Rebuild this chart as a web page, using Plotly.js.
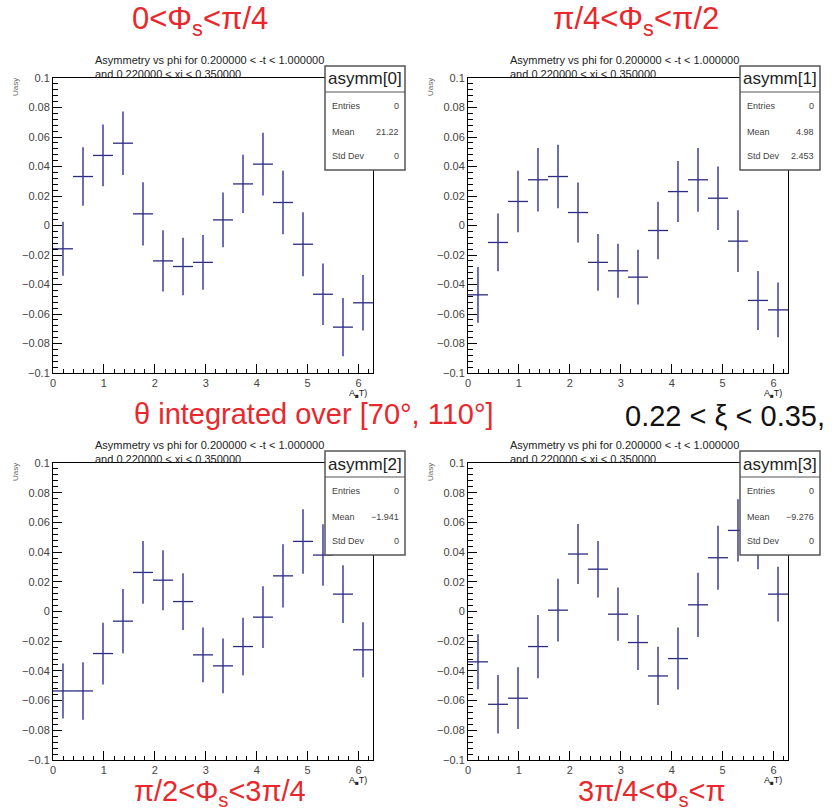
<!DOCTYPE html>
<html>
<head>
<meta charset="utf-8">
<script src="https://cdn.plot.ly/plotly-3.0.1.min.js"></script>
<style>html,body{margin:0;padding:0;background:#fff;}#chart{width:835px;height:812px;}</style>
</head>
<body>
<div id="chart"></div>
<script>
// ---- data ----
const phi = [0.196, 0.589, 0.982, 1.374, 1.767, 2.160, 2.553, 2.945, 3.338, 3.731, 4.123, 4.516, 4.909, 5.301, 5.694, 6.087];
const halfBin = 0.196;
const asym0 = [-0.0158, 0.0332, 0.0475, 0.0558, 0.0079, -0.0240, -0.0278, -0.0250, 0.0038, 0.0282, 0.0416, 0.0156, -0.0127, -0.0466, -0.0689, -0.0524];
const err0  = [0.0183, 0.0198, 0.0209, 0.0215, 0.0215, 0.0207, 0.0195, 0.0186, 0.0185, 0.0198, 0.0212, 0.0215, 0.0217, 0.0209, 0.0198, 0.0188];
const asym1 = [-0.0470, -0.0115, 0.0163, 0.0310, 0.0332, 0.0088, -0.0250, -0.0307, -0.0350, -0.0034, 0.0230, 0.0310, 0.0185, -0.0106, -0.0508, -0.0572];
const err1  = [0.0189, 0.0196, 0.0209, 0.0215, 0.0215, 0.0203, 0.0192, 0.0183, 0.0186, 0.0195, 0.0207, 0.0216, 0.0215, 0.0209, 0.0200, 0.0186];
const asym2 = [-0.0535, -0.0535, -0.0283, -0.0065, 0.0263, 0.0211, 0.0067, -0.0292, -0.0366, -0.0236, -0.0038, 0.0240, 0.0472, 0.0380, 0.0117, -0.0258];
const err2  = [0.0185, 0.0194, 0.0208, 0.0216, 0.0211, 0.0202, 0.0191, 0.0185, 0.0184, 0.0194, 0.0208, 0.0213, 0.0217, 0.0207, 0.0194, 0.0185];
const asym3 = [-0.0339, -0.0625, -0.0584, -0.0236, 0.0009, 0.0387, 0.0285, -0.0018, -0.0209, -0.0434, -0.0317, 0.0045, 0.0362, 0.0546, 0.0485, 0.0117];
const err3  = [0.0185, 0.0197, 0.0208, 0.0213, 0.0211, 0.0202, 0.0190, 0.0179, 0.0185, 0.0196, 0.0209, 0.0216, 0.0216, 0.0210, 0.0200, 0.0185];

const statNames   = ['asymm[0]', 'asymm[1]', 'asymm[2]', 'asymm[3]'];
const statEntries = ['0', '0', '0', '0'];
const statMean    = ['21.22', '4.98', '\u22121.941', '\u22129.276'];
const statStd     = ['0', '2.453', '0', '0'];

const histTitle1 = 'Asymmetry vs phi for 0.200000 &lt; -t &lt; 1.000000';
const histTitle2 = 'and 0.220000 &lt; xi &lt; 0.350000';
const yTitle = 'Uasy';
const xTitle = 'A<sub>\u25A0</sub>T)';

const binLabels = ['0&lt;\u03A6<sub>s</sub>&lt;\u03C0/4', '\u03C0/4&lt;\u03A6<sub>s</sub>&lt;\u03C0/2',
                   '\u03C0/2&lt;\u03A6<sub>s</sub>&lt;3\u03C0/4', '3\u03C0/4&lt;\u03A6<sub>s</sub>&lt;\u03C0'];
const thetaLabel = '\u03B8 integrated over [70\u00B0, 110\u00B0]';
const xiLabel = '0.22 &lt; \u03BE &lt; 0.35,';

const series = [asym0, asym1, asym2, asym3];
const errs = [err0, err1, err2, err3];

// ---- layout helpers ----
const W = 835, H = 812;
const px = p => p / W;
const py = p => 1 - p / H;
const panels = [
  {l: 53, r: 373, t: 78, b: 373},
  {l: 468, r: 788, t: 78, b: 373},
  {l: 53, r: 373, t: 463, b: 760},
  {l: 468, r: 788, t: 463, b: 760}
];
const FONT = 'Liberation Sans, Arial, Helvetica, sans-serif';
const LINECOL = '#4a4aa6';
const RED = '#e8282c';

const data = [];
const layout = {
  width: W, height: H,
  margin: {l: 0, r: 0, t: 0, b: 0},
  paper_bgcolor: '#ffffff', plot_bgcolor: '#ffffff',
  showlegend: false,
  font: {family: FONT, color: '#333'},
  shapes: [], annotations: []
};

panels.forEach((p, i) => {
  const xa = i === 0 ? 'x' : 'x' + (i + 1);
  const ya = i === 0 ? 'y' : 'y' + (i + 1);
  const xk = i === 0 ? 'xaxis' : 'xaxis' + (i + 1);
  const yk = i === 0 ? 'yaxis' : 'yaxis' + (i + 1);
  data.push({
    type: 'scatter', mode: 'markers', x: phi, y: series[i], xaxis: xa, yaxis: ya,
    marker: {size: 1, color: LINECOL},
    error_y: {type: 'data', array: errs[i], visible: true, color: LINECOL, thickness: 1.6, width: 0},
    error_x: {type: 'constant', value: halfBin, visible: true, color: '#2a2a80', thickness: 1.3, width: 0},
    hoverinfo: 'skip'
  });
  layout[xk] = {
    domain: [px(p.l), px(p.r)], anchor: ya, range: [0, 6.2832],
    showline: true, mirror: true, linecolor: '#000', linewidth: 1,
    ticks: 'inside', ticklen: 9, tickcolor: '#000', tickwidth: 1,
    tick0: 0, dtick: 1, showgrid: false, zeroline: false,
    minor: {ticks: 'inside', ticklen: 4.5, dtick: 0.2, tickcolor: '#000', showgrid: false},
    tickfont: {size: 11, color: '#444', family: FONT}
  };
  layout[yk] = {
    domain: [py(p.b), py(p.t)], anchor: xa, range: [-0.1, 0.1],
    showline: true, mirror: true, linecolor: '#000', linewidth: 1,
    ticks: 'inside', ticklen: 9, tickcolor: '#000', tickwidth: 1,
    tick0: 0, dtick: 0.02, showgrid: false, zeroline: false,
    minor: {ticks: 'inside', ticklen: 4.5, dtick: 0.004, tickcolor: '#000', showgrid: false},
    tickfont: {size: 11, color: '#444', family: FONT}
  };

  // histogram title
  layout.annotations.push({xref: 'paper', yref: 'paper', x: px(p.l + 40), y: py(p.t - 18),
    xanchor: 'left', yanchor: 'middle', showarrow: false, text: histTitle1,
    font: {size: 11, color: '#222', family: FONT}});
  layout.annotations.push({xref: 'paper', yref: 'paper', x: px(p.l + 40), y: py(p.t - 4),
    xanchor: 'left', yanchor: 'middle', showarrow: false, text: histTitle2,
    font: {size: 11, color: '#222', family: FONT}});
  // axis titles
  layout.annotations.push({xref: 'paper', yref: 'paper', x: px(p.l - 37), y: py(p.t + 9),
    xanchor: 'center', yanchor: 'middle', showarrow: false, text: yTitle, textangle: -90,
    font: {size: 8, color: '#666', family: FONT}});
  layout.annotations.push({xref: 'paper', yref: 'paper', x: px(p.l + 305), y: py(p.b + 20),
    xanchor: 'center', yanchor: 'middle', showarrow: false, text: xTitle,
    font: {size: 9, color: '#222', family: FONT}});

  // stats box
  const bl = p.l + 272, br = p.l + 352, bt = p.t - 12, bb = p.t + 92;
  layout.shapes.push({type: 'rect', xref: 'paper', yref: 'paper', layer: 'above',
    x0: px(bl), x1: px(br), y0: py(bb), y1: py(bt),
    fillcolor: '#ffffff', line: {color: '#555', width: 1.5}});
  layout.shapes.push({type: 'line', xref: 'paper', yref: 'paper', layer: 'above',
    x0: px(bl), x1: px(br), y0: py(p.t + 14), y1: py(p.t + 14),
    line: {color: '#555', width: 1.2}});
  layout.annotations.push({xref: 'paper', yref: 'paper', x: px((bl + br) / 2), y: py(p.t + 1),
    xanchor: 'center', yanchor: 'middle', showarrow: false, text: statNames[i],
    font: {size: 17, color: '#222', family: FONT}});
  const rows = [['Entries', statEntries[i]], ['Mean', statMean[i]], ['Std Dev', statStd[i]]];
  const rowY = [p.t + 28, p.t + 54, p.t + 78];
  rows.forEach((r, k) => {
    layout.annotations.push({xref: 'paper', yref: 'paper', x: px(bl + 5), y: py(rowY[k]),
      xanchor: 'left', yanchor: 'middle', showarrow: false, text: r[0],
      font: {size: 9, color: '#444', family: FONT}});
    layout.annotations.push({xref: 'paper', yref: 'paper', x: px(br - 4), y: py(rowY[k]),
      xanchor: 'right', yanchor: 'middle', showarrow: false, text: r[1],
      font: {size: 9, color: '#444', family: FONT}});
  });
});

// slide labels
const bigLabels = [
  {t: binLabels[0], x: 200, y: 21, c: RED, s: 31},
  {t: binLabels[1], x: 636, y: 21, c: RED, s: 31},
  {t: thetaLabel, x: 314, y: 414, c: RED, s: 29},
  {t: xiLabel, x: 725, y: 416, c: '#111', s: 29},
  {t: binLabels[2], x: 220, y: 793, c: RED, s: 29},
  {t: binLabels[3], x: 652, y: 793, c: RED, s: 29}
];
bigLabels.forEach(b => {
  layout.annotations.push({xref: 'paper', yref: 'paper', x: px(b.x), y: py(b.y),
    xanchor: 'center', yanchor: 'middle', showarrow: false, text: b.t,
    font: {size: b.s, color: b.c, family: FONT}});
});

Plotly.newPlot('chart', data, layout, {staticPlot: true, displayModeBar: false});
</script>
</body>
</html>
